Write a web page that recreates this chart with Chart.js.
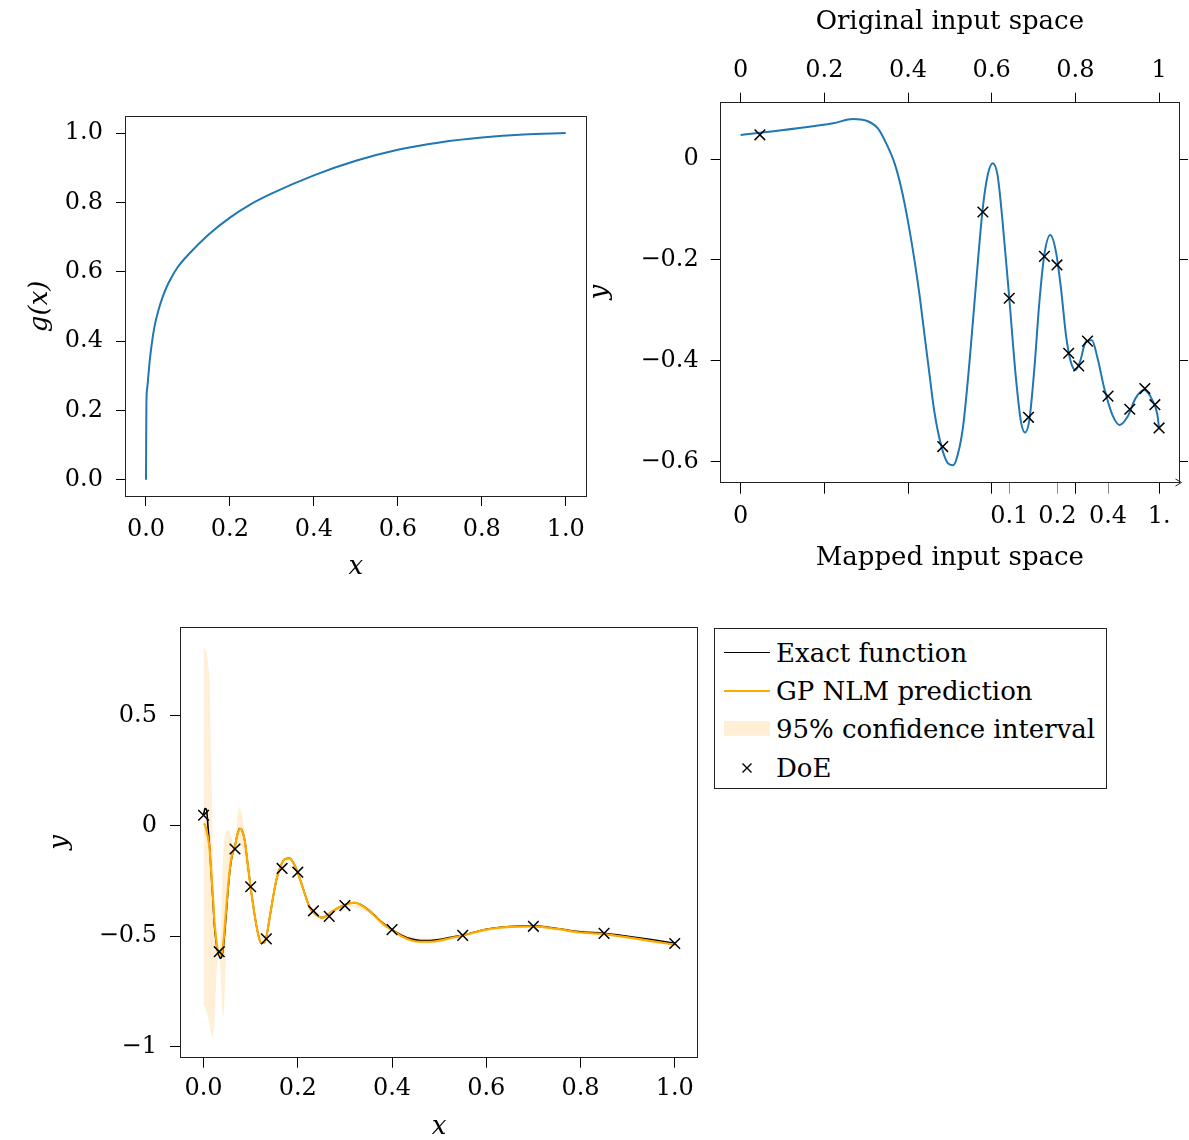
<!DOCTYPE html>
<html><head><meta charset="utf-8">
<script src="https://cdn.jsdelivr.net/npm/chart.js@4.4.1/dist/chart.umd.min.js"></script>
<style>
html,body{margin:0;padding:0;background:#fff;}
body{width:1189px;height:1140px;position:relative;overflow:hidden;font-family:'DejaVu Serif',serif;}
canvas{position:absolute;}
#legend{position:absolute;left:714px;top:628px;width:393px;height:161px;border:1px solid #222;box-sizing:border-box;font-family:'DejaVu Serif',serif;font-size:26px;color:#000;}
.row{position:absolute;left:0;height:38px;line-height:38px;white-space:nowrap;}
.sw{position:absolute;left:9px;width:46px;}
.lab{position:absolute;left:61px;top:0;}
</style></head><body>
<canvas id="c1" width="600" height="490" style="left:0;top:100px"></canvas>
<canvas id="c2" width="609" height="590" style="left:580px;top:0"></canvas>
<canvas id="c3" width="710" height="540" style="left:0;top:600px"></canvas>
<div id="legend"></div>
<script>
// ---------- data ----------
// top-left: warping function g(x)
const gX = [0, 0.001, 0.003, 0.006, 0.01, 0.02, 0.03, 0.04, 0.05, 0.06, 0.075, 0.1, 0.15, 0.2, 0.25, 0.3, 0.4, 0.5, 0.6, 0.7, 0.8, 0.9, 1.0];
const gY = [0, 0.22, 0.265, 0.305, 0.355, 0.44, 0.49, 0.528, 0.558, 0.582, 0.612, 0.648, 0.708, 0.756, 0.795, 0.826, 0.878, 0.92, 0.952, 0.973, 0.987, 0.996, 1.0];

// top-right: function in mapped space
const mapU = [0, 0.221, 0.2686, 0.30, 0.328, 0.348, 0.368, 0.384, 0.40, 0.416, 0.4276, 0.4395, 0.4515, 0.463, 0.479, 0.495, 0.507, 0.515, 0.531, 0.547, 0.563, 0.5786, 0.5905, 0.6025, 0.614, 0.626, 0.642, 0.658, 0.670, 0.6797, 0.69, 0.702, 0.714, 0.7257, 0.740, 0.7536, 0.7655, 0.7775, 0.789, 0.80, 0.811, 0.825, 0.8395, 0.853, 0.869, 0.8886, 0.906, 0.9245, 0.944, 0.964, 0.984, 0.996, 1.0];
const mapY = [0.0476, 0.0707, 0.0793, 0.076, 0.0608, 0.031, -0.0086, -0.058, -0.124, -0.2035, -0.27, -0.349, -0.428, -0.501, -0.567, -0.603, -0.607, -0.597, -0.534, -0.402, -0.243, -0.098, -0.0317, -0.0086, -0.032, -0.124, -0.276, -0.435, -0.521, -0.542, -0.517, -0.415, -0.283, -0.19, -0.1506, -0.184, -0.256, -0.349, -0.402, -0.418, -0.402, -0.362, -0.359, -0.395, -0.4545, -0.5075, -0.527, -0.511, -0.474, -0.458, -0.478, -0.507, -0.534];

// design of experiments
const doeX = [0, 0.0333, 0.0667, 0.1, 0.1333, 0.1667, 0.2, 0.2333, 0.2667, 0.3, 0.4, 0.55, 0.7, 0.85, 1.0];
const doeU = [0.046, 0.483, 0.579, 0.642, 0.688, 0.726, 0.756, 0.784, 0.808, 0.829, 0.878, 0.930, 0.966, 0.990, 1.0];
const doeY = [0.048, -0.57, -0.105, -0.276, -0.512, -0.193, -0.21, -0.385, -0.41, -0.361, -0.47, -0.496, -0.455, -0.487, -0.533];

// bottom: exact function and GP prediction
const fX = [0, 0.003, 0.006, 0.01, 0.013, 0.016, 0.02, 0.023, 0.027, 0.03, 0.0333, 0.036, 0.039, 0.042, 0.045, 0.048, 0.052, 0.056, 0.06, 0.0667, 0.07, 0.073, 0.0763, 0.08, 0.084, 0.088, 0.093, 0.1, 0.106, 0.112, 0.118, 0.122, 0.128, 0.133, 0.14, 0.147, 0.155, 0.165, 0.173, 0.182, 0.19, 0.2, 0.209, 0.218, 0.225, 0.235, 0.245, 0.253, 0.262, 0.271, 0.285, 0.299, 0.31, 0.32, 0.332, 0.345, 0.36, 0.38, 0.4, 0.42, 0.44, 0.46, 0.48, 0.5, 0.525, 0.55, 0.6, 0.65, 0.7, 0.75, 0.8, 0.85, 0.9, 0.95, 1.0];
const exactY = [0.05, 0.078, 0.075, -0.02, -0.10, -0.21, -0.34, -0.45, -0.53, -0.57, -0.59, -0.60, -0.59, -0.55, -0.48, -0.40, -0.29, -0.20, -0.14, -0.09, -0.055, -0.03, -0.012, -0.015, -0.035, -0.075, -0.16, -0.28, -0.37, -0.45, -0.51, -0.53, -0.53, -0.505, -0.42, -0.33, -0.24, -0.175, -0.15, -0.147, -0.165, -0.212, -0.27, -0.328, -0.37, -0.396, -0.412, -0.4155, -0.405, -0.391, -0.372, -0.358, -0.351, -0.348, -0.355, -0.373, -0.40, -0.44, -0.47, -0.495, -0.512, -0.519, -0.52, -0.515, -0.505, -0.495, -0.468, -0.456, -0.453, -0.465, -0.48, -0.487, -0.50, -0.515, -0.532];
const gpY = [0.01, 0.005, -0.02, -0.06, -0.11, -0.20, -0.32, -0.43, -0.516, -0.56, -0.575, -0.585, -0.575, -0.53, -0.455, -0.375, -0.275, -0.19, -0.135, -0.095, -0.055, -0.03, -0.015, -0.015, -0.035, -0.075, -0.16, -0.28, -0.37, -0.45, -0.51, -0.53, -0.53, -0.505, -0.42, -0.33, -0.24, -0.175, -0.15, -0.147, -0.165, -0.212, -0.27, -0.328, -0.37, -0.396, -0.412, -0.4155, -0.405, -0.391, -0.372, -0.358, -0.351, -0.348, -0.356, -0.375, -0.402, -0.443, -0.472, -0.5, -0.518, -0.525, -0.525, -0.52, -0.508, -0.497, -0.47, -0.458, -0.455, -0.467, -0.483, -0.49, -0.505, -0.522, -0.538];

// bottom: 95% confidence band
const bandX = [0, 0.003, 0.006, 0.01, 0.013, 0.016, 0.018, 0.02, 0.023, 0.027, 0.03, 0.0333, 0.036, 0.039, 0.042, 0.045, 0.048, 0.052, 0.056, 0.06, 0.0667, 0.07, 0.073, 0.0763, 0.08, 0.084, 0.088, 0.093, 0.1, 0.115, 0.133, 0.15, 0.1667, 0.183, 0.2, 0.217, 0.233, 0.25, 0.2667, 0.283, 0.3, 0.35, 0.4, 0.475, 0.55, 0.625, 0.7, 0.775, 0.85, 0.925, 1.0];
const bandUp = [0.81, 0.80, 0.79, 0.72, 0.64, 0.30, 0.10, -0.18, -0.40, -0.50, -0.55, -0.565, -0.50, -0.30, -0.12, -0.05, -0.025, -0.02, -0.03, -0.06, -0.095, -0.01, 0.06, 0.08, 0.065, 0.02, -0.05, -0.13, -0.27, -0.47, -0.50, -0.29, -0.185, -0.14, -0.205, -0.315, -0.38, -0.41, -0.40, -0.37, -0.355, -0.372, -0.465, -0.51, -0.49, -0.455, -0.45, -0.465, -0.483, -0.505, -0.528];
const bandLo = [-0.81, -0.82, -0.84, -0.87, -0.90, -0.94, -0.955, -0.96, -0.88, -0.70, -0.61, -0.585, -0.66, -0.80, -0.87, -0.75, -0.55, -0.36, -0.25, -0.18, -0.115, -0.09, -0.08, -0.08, -0.09, -0.12, -0.16, -0.22, -0.285, -0.49, -0.515, -0.31, -0.195, -0.155, -0.215, -0.33, -0.39, -0.425, -0.41, -0.38, -0.365, -0.392, -0.475, -0.535, -0.50, -0.47, -0.458, -0.48, -0.49, -0.52, -0.536];

// ticks
const tlTicks = [0, 0.2, 0.4, 0.6, 0.8, 1.0];
const trTopTicks = [0, 0.2, 0.4, 0.6, 0.8, 1];
const trBottomTicks = [0, 0.2, 0.4, 0.6, 0.642, 0.757, 0.8, 0.878, 1];
const trBottomLabels = ['0', '', '', '', '0.1', '0.2', '', '0.4', '1.'];
const trMappedTicks = [0.642, 0.757, 0.878];
const trYTicks = [0, -0.2, -0.4, -0.6];
const blXTicks = [0, 0.2, 0.4, 0.6, 0.8, 1.0];
const blYTicks = [0.5, 0, -0.5, -1];

const legendLabels = ['Exact function', 'GP NLM prediction', '95% confidence interval', 'DoE'];

// ---------- styles ----------
const FONT = 'DejaVu Serif';
Chart.defaults.font.family = FONT;
Chart.defaults.color = '#000';
const BLUE = '#1f77b4', ORANGE = '#ffaa00', BAND = 'rgba(250,190,90,0.25)';
const TICKF = {size: 24, family: FONT};
const TITLEF = (it) => ({size: 26, family: FONT, style: it ? 'italic' : 'normal', lineHeight: 1});

const pts = (xs, ys) => xs.map((x, i) => ({x: x, y: ys[i]}));
const fixW = w => s => { s.width = w; s.paddingTop = 0; s.paddingBottom = 0; s.paddingLeft = 0; s.paddingRight = 0; };
const fixH = h => s => { s.height = h; s.paddingTop = 0; s.paddingBottom = 0; s.paddingLeft = 0; s.paddingRight = 0; };
const setTicks = arr => s => { s.ticks = arr.map(v => ({value: v})); };
const minus = v => v < 0 ? '\u2212' + String(Math.abs(v)) : String(v);
const gridOpt = (len, col) => ({display: true, drawOnChartArea: false, drawTicks: true, tickLength: len, tickColor: col || '#000', tickWidth: 1});

const boxPlugin = {
  id: 'box',
  afterDraw(chart, args, opts) {
    const a = chart.chartArea, ctx = chart.ctx;
    ctx.save();
    ctx.strokeStyle = '#222';
    ctx.lineWidth = 1;
    const l = Math.round(a.left) + 0.5, t = Math.round(a.top) + 0.5;
    const r = Math.round(a.right) - 0.5, b = Math.round(a.bottom) - 0.5;
    ctx.strokeRect(l, t, r - l, b - t);
    if (opts && opts.arrow) {
      ctx.beginPath();
      ctx.moveTo(r - 4, b - 3.5); ctx.lineTo(r + 2, b); ctx.lineTo(r - 4, b + 3.5);
      ctx.stroke();
    }
    ctx.restore();
  }
};
const baseOpts = {responsive: false, animation: false, devicePixelRatio: 1, events: []};

// ---------- top-left ----------
new Chart(document.getElementById('c1'), {
  type: 'line',
  data: {datasets: [{data: pts(gX, gY), borderColor: BLUE, borderWidth: 2, pointRadius: 0, fill: false, cubicInterpolationMode: 'monotone'}]},
  options: Object.assign({}, baseOpts, {
    layout: {padding: {top: 15.7, right: 13.3, left: 0, bottom: 0}},
    plugins: {legend: {display: false}, tooltip: {enabled: false}, box: {}},
    scales: {
      x: {type: 'linear', min: -0.05, max: 1.05, afterBuildTicks: setTicks(tlTicks), afterFit: fixH(93),
          ticks: {font: TICKF, padding: 9, maxRotation: 0, autoSkip: false, callback: v => v.toFixed(1)},
          grid: gridOpt(9), border: {display: false},
          title: {display: true, text: 'x', font: TITLEF(true), padding: {top: 0, bottom: 10}}},
      y: {type: 'linear', min: -0.05, max: 1.05, afterBuildTicks: setTicks(tlTicks), afterFit: fixW(125),
          ticks: {font: TICKF, padding: 13, autoSkip: false, callback: v => v.toFixed(1)},
          grid: gridOpt(9), border: {display: false},
          title: {display: true, text: 'g(x)', font: TITLEF(true), padding: {top: 27, bottom: 0}}}
    }
  }),
  plugins: [boxPlugin]
});

// ---------- top-right ----------
new Chart(document.getElementById('c2'), {
  type: 'line',
  data: {datasets: [
    {data: pts(doeU, doeY), xAxisID: 'xt', yAxisID: 'y', showLine: false, pointStyle: 'crossRot', pointRadius: 7.5, pointBorderWidth: 1.5, pointBorderColor: '#000', pointBackgroundColor: '#000', borderColor: '#000'},
    {data: pts(mapU, mapY), xAxisID: 'xt', yAxisID: 'y', borderColor: BLUE, borderWidth: 2, pointRadius: 0, fill: false, cubicInterpolationMode: 'monotone'}
  ]},
  options: Object.assign({}, baseOpts, {
    layout: {padding: 0},
    plugins: {legend: {display: false}, tooltip: {enabled: false}, box: {arrow: true}},
    scales: {
      xt: {type: 'linear', position: 'top', min: -0.05, max: 1.05, afterBuildTicks: setTicks(trTopTicks), afterFit: fixH(101.7),
           ticks: {font: TICKF, padding: 8, maxRotation: 0, autoSkip: false, callback: v => String(v)},
           grid: gridOpt(9), border: {display: false},
           title: {display: true, text: 'Original input space', font: TITLEF(false), padding: {top: 9, bottom: 0}}},
      xb: {type: 'linear', position: 'bottom', min: -0.05, max: 1.05, afterBuildTicks: setTicks(trBottomTicks), afterFit: fixH(107.3),
           ticks: {font: TICKF, padding: 9, maxRotation: 0, autoSkip: false, callback: (v, i) => trBottomLabels[i]},
           grid: {display: true, drawOnChartArea: false, tickLength: 11, tickWidth: 1,
                  tickColor: c => (c.tick && trMappedTicks.indexOf(c.tick.value) >= 0) ? '#8a8a8a' : '#000'},
           border: {display: false},
           title: {display: true, text: 'Mapped input space', font: TITLEF(false), padding: {top: 0, bottom: 19}}},
      y: {type: 'linear', position: 'left', min: -0.6416, max: 0.1136, afterBuildTicks: setTicks(trYTicks), afterFit: fixW(139.7),
          ticks: {font: TICKF, padding: 12, autoSkip: false, callback: minus},
          grid: gridOpt(9), border: {display: false},
          title: {display: true, text: 'y', font: TITLEF(true), padding: {top: 7, bottom: 0}}},
      yr: {type: 'linear', position: 'right', min: -0.6416, max: 0.1136, afterBuildTicks: setTicks(trYTicks), afterFit: fixW(8.3),
           ticks: {display: false}, grid: gridOpt(8), border: {display: false}}
    }
  }),
  plugins: [boxPlugin]
});

// ---------- bottom ----------
new Chart(document.getElementById('c3'), {
  type: 'line',
  data: {datasets: [
    {data: pts(doeX, doeY), showLine: false, pointStyle: 'crossRot', pointRadius: 7.5, pointBorderWidth: 1.5, pointBorderColor: '#000', pointBackgroundColor: '#000', borderColor: '#000'},
    {data: pts(fX, gpY), borderColor: ORANGE, borderWidth: 2.2, pointRadius: 0, fill: false, cubicInterpolationMode: 'monotone'},
    {data: pts(fX, exactY), borderColor: '#000', borderWidth: 1.6, pointRadius: 0, fill: false, cubicInterpolationMode: 'monotone'},
    {data: pts(bandX, bandUp), borderColor: 'rgba(0,0,0,0)', borderWidth: 0, pointRadius: 0, fill: '+1', backgroundColor: BAND, cubicInterpolationMode: 'monotone'},
    {data: pts(bandX, bandLo), borderColor: 'rgba(0,0,0,0)', borderWidth: 0, pointRadius: 0, fill: false, cubicInterpolationMode: 'monotone'}
  ]},
  options: Object.assign({}, baseOpts, {
    layout: {padding: {top: 27.3, right: 11.7, left: 0, bottom: 0}},
    plugins: {legend: {display: false}, tooltip: {enabled: false}, box: {}},
    scales: {
      x: {type: 'linear', min: -0.05, max: 1.05, afterBuildTicks: setTicks(blXTicks), afterFit: fixH(82.3),
          ticks: {font: TICKF, padding: 7, maxRotation: 0, autoSkip: false, callback: v => v.toFixed(1)},
          grid: gridOpt(10), border: {display: false},
          title: {display: true, text: 'x', font: TITLEF(true), padding: {top: 0, bottom: 0}}},
      y: {type: 'linear', min: -1.05, max: 0.899, afterBuildTicks: setTicks(blYTicks), afterFit: fixW(180),
          ticks: {font: TICKF, padding: 13, autoSkip: false, callback: minus},
          grid: gridOpt(10), border: {display: false},
          title: {display: true, text: 'y', font: TITLEF(true), padding: {top: 47, bottom: 0}}}
    }
  }),
  plugins: [boxPlugin]
});

// ---------- legend ----------
(function () {
  const lg = document.getElementById('legend');
  const swatches = [
    '<div class="sw" style="top:18px;height:0;border-top:1.5px solid #000"></div>',
    '<div class="sw" style="top:18px;height:0;border-top:2px solid ' + ORANGE + '"></div>',
    '<div class="sw" style="top:11px;height:15px;background:' + BAND + '"></div>',
    '<svg class="sw" style="top:13px" width="46" height="12"><path d="M18.5 1.5 L27.5 10.5 M27.5 1.5 L18.5 10.5" stroke="#000" stroke-width="1.4"/></svg>'
  ];
  const tops = [5, 43, 81, 120];
  legendLabels.forEach((t, i) => {
    const row = document.createElement('div');
    row.className = 'row';
    row.style.top = tops[i] + 'px';
    row.style.width = '390px';
    row.innerHTML = swatches[i] + '<span class="lab">' + t + '</span>';
    lg.appendChild(row);
  });
})();
</script>
</body></html>
